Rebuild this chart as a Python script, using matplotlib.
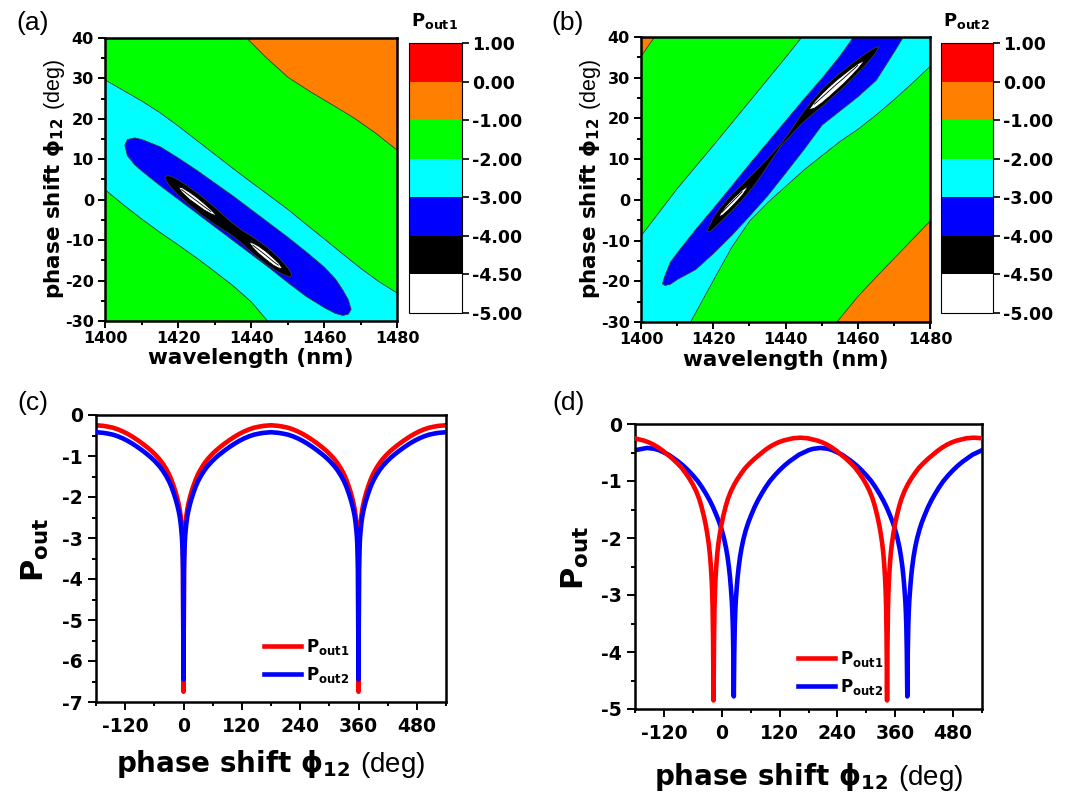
import matplotlib
matplotlib.use("Agg")
import matplotlib.pyplot as plt
from matplotlib.colors import ListedColormap, BoundaryNorm
from matplotlib.cm import ScalarMappable
from matplotlib.ticker import MultipleLocator, FormatStrFormatter

plt.rcParams['font.family'] = ['DejaVu Sans']
plt.rcParams['font.weight'] = 'bold'
plt.rcParams['mathtext.fontset'] = 'custom'
plt.rcParams['mathtext.rm'] = 'Liberation Sans:normal'
plt.rcParams['mathtext.bf'] = 'DejaVu Sans:bold'
plt.rcParams['mathtext.it'] = 'DejaVu Sans:bold'
plt.rcParams['axes.unicode_minus'] = False

# ---------------- colour scale of the contour maps ----------------
LEVELS = [-5.0, -4.5, -4.0, -3.0, -2.0, -1.0, 0.0, 1.0]
LEVEL_COLORS = ['#ffffff', '#000000', '#0000ff', '#00ffff', '#00ff00', '#ff8000', '#ff0000']

# ---------------- (a) P_out1 contour boundaries (wavelength nm, phase deg) ----------------
A_ORANGE_X = [1438.8, 1444, 1450, 1456, 1462.5, 1468, 1474, 1480]
A_ORANGE_LO = [40, 35.3, 30.4, 26.9, 23.4, 20.4, 16.6, 12.3]

A_CYAN_X = [1400, 1405, 1410, 1415, 1420, 1425, 1430, 1435, 1440, 1444.5, 1450, 1455, 1460, 1465, 1470, 1475, 1480]
A_CYAN_HI = [29.7, 27.1, 24.5, 21.6, 18.3, 14.8, 11.3, 7.8, 4.4, 1.4, -2.3, -6.0, -9.6, -13.3, -16.9, -20.2, -23.0]
A_CYAN_LO = [2.5, -1.2, -4.7, -8.0, -11.1, -14.3, -17.7, -21.2, -25.2, -30, -30, -30, -30, -30, -30, -30, -30]

A_BLUE_X = [1405.3, 1406, 1408, 1410, 1415, 1420, 1425, 1430, 1435, 1440, 1445, 1450, 1455, 1460, 1463, 1465, 1466.5, 1467.3]
A_BLUE_HI = [13.6, 15.0, 15.4, 15.0, 13.2, 10.4, 7.4, 4.2, 1.0, -2.4, -5.8, -9.2, -12.8, -16.6, -19.5, -22.2, -24.6, -27.0]
A_BLUE_LO = [13.6, 11.0, 8.8, 7.2, 3.6, 0.2, -3.2, -6.6, -10.0, -13.4, -16.8, -20.4, -23.8, -26.6, -28.0, -28.5, -28.2, -27.0]

A_BLACK_X = [1416.2, 1417, 1418, 1420, 1423, 1426, 1430, 1434, 1437, 1440, 1444, 1447, 1449, 1450.5, 1451]
A_BLACK_HI = [5.7, 6.1, 5.9, 5.0, 3.2, 1.2, -1.8, -5.1, -7.2, -8.9, -11.4, -13.8, -15.7, -17.4, -18.5]
A_BLACK_LO = [5.7, 4.3, 3.1, 1.2, -1.2, -3.4, -6.0, -8.3, -10.4, -12.9, -15.8, -17.6, -18.5, -19.0, -18.5]

A_WHITE1_X = [1420.0, 1421, 1423, 1425, 1427, 1429, 1430.5]
A_WHITE1_HI = [3.2, 3.1, 2.0, 0.7, -0.8, -2.4, -3.9]
A_WHITE1_LO = [3.2, 1.9, 0.2, -1.1, -2.4, -3.4, -3.9]
A_WHITE2_X = [1439.3, 1440.5, 1442, 1444, 1446, 1447.5, 1448.5]
A_WHITE2_HI = [-10.4, -10.65, -11.4, -12.7, -14.3, -15.6, -16.9]
A_WHITE2_LO = [-10.4, -11.85, -13.2, -14.7, -16.1, -16.8, -16.9]

# ---------------- (b) P_out2 contour boundaries ----------------
B_ORANGE1_X = [1400, 1403.5]
B_ORANGE1_LO = [35.5, 40]
B_ORANGE2_X = [1454, 1460, 1465, 1470, 1475, 1480]
B_ORANGE2_HI = [-30, -23.5, -18.8, -14.2, -9.6, -5.0]

B_CYAN_X = [1400, 1405, 1410, 1413.5, 1415, 1420, 1425, 1430, 1435, 1440, 1444.3, 1445, 1450, 1455, 1460, 1465, 1470, 1475, 1480]
B_CYAN_HI = [-8.6, -2.8, 3.0, 6.7, 8.3, 13.6, 19.0, 24.4, 29.8, 35.2, 40, 40, 40, 40, 40, 40, 40, 40, 40]
B_CYAN_LO = [-30, -30, -30, -30, -27.6, -19.5, -11.5, -5.0, -0.5, 3.5, 6.9, 7.5, 11.0, 14.5, 17.5, 21.0, 24.8, 28.8, 33.0]

B_BLUE_X = [1405.8, 1406.5, 1408, 1410, 1415, 1420, 1425, 1430, 1435, 1440, 1445, 1450, 1455, 1458.6, 1460, 1465, 1470, 1472.4]
B_BLUE_HI = [-20.5, -18.5, -15.2, -12.8, -7.2, -1.9, 3.5, 9.0, 14.3, 19.6, 24.9, 30.0, 35.5, 40, 40, 40, 40, 40]
B_BLUE_LO = [-20.5, -20.9, -20.6, -19.4, -17.0, -13.0, -8.6, -3.8, 1.2, 6.8, 12.5, 18.5, 22.0, 24.5, 25.5, 29.5, 36.5, 40]

B_BLACK_X = [1418.0, 1419, 1420, 1422, 1425, 1428, 1431, 1434, 1436.5, 1438.5, 1441, 1444, 1447, 1450, 1453, 1456, 1459, 1462, 1464.5, 1465.8]
B_BLACK_HI = [-7.7, -5.9, -4.1, -1.6, 1.4, 4.0, 6.6, 9.4, 11.8, 13.75, 16.8, 20.7, 24.3, 27.3, 29.8, 32.0, 34.1, 36.0, 37.4, 37.8]
B_BLACK_LO = [-7.7, -7.7, -6.9, -5.2, -2.6, 0.2, 3.4, 7.2, 10.6, 13.25, 15.6, 18.5, 20.9, 23.1, 25.4, 27.8, 30.5, 33.2, 35.8, 37.8]

B_WHITE1_X = [1421.3, 1422.5, 1424, 1426, 1428, 1429.7]
B_WHITE1_HI = [-4.1, -2.4, -0.8, 1.0, 2.6, 3.6]
B_WHITE1_LO = [-4.1, -3.6, -2.4, -0.6, 1.4, 3.6]
B_WHITE2_X = [1446.3, 1448, 1450, 1452, 1454, 1456, 1458, 1460, 1461.8]
B_WHITE2_HI = [22.2, 24.3, 26.2, 27.9, 29.5, 30.9, 32.3, 33.6, 34.4]
B_WHITE2_LO = [22.2, 22.7, 24.0, 25.5, 27.1, 28.7, 30.5, 32.4, 34.4]

# ---------------- (c) P_out vs phase shift (both dips at 0 and 360 deg) ----------------
PHI_C = [-180, -165, -155, -145, -135, -125, -115, -105, -95, -85, -75, -66, -58, -50, -43, -36, -30, -25, -20, -16, -13, -10, -8, -6, -4, -3, -2, -1,
         0,
         1, 2, 3, 4, 6, 8, 10, 13, 16, 20, 25, 30, 36, 43, 50, 58, 66, 75, 85, 95, 105, 115, 125, 135, 145, 155, 165, 180,
         195, 205, 215, 225, 235, 245, 255, 265, 275, 285, 294, 302, 310, 317, 324, 330, 335, 340, 344, 347, 350, 352, 354, 356, 357, 358, 359,
         360,
         361, 362, 363, 364, 366, 368, 370, 373, 376, 380, 385, 390, 396, 403, 410, 418, 426, 435, 445, 455, 465, 475, 485, 495, 505, 515, 525, 540]
POUT1_C = [-0.25, -0.265, -0.285, -0.31, -0.35, -0.40, -0.46, -0.53, -0.608, -0.693, -0.785, -0.875, -0.967, -1.071, -1.18, -1.31, -1.442, -1.577, -1.742, -1.89, -2.019, -2.169, -2.29, -2.45, -2.67, -2.83, -3.05, -3.50,
           -6.75,
           -3.50, -3.05, -2.83, -2.67, -2.45, -2.29, -2.169, -2.019, -1.89, -1.742, -1.577, -1.442, -1.31, -1.18, -1.071, -0.967, -0.875, -0.785, -0.693, -0.608, -0.53, -0.46, -0.40, -0.35, -0.31, -0.285, -0.265, -0.25,
           -0.265, -0.285, -0.31, -0.35, -0.40, -0.46, -0.53, -0.608, -0.693, -0.785, -0.875, -0.967, -1.071, -1.18, -1.31, -1.442, -1.577, -1.742, -1.89, -2.019, -2.169, -2.29, -2.45, -2.67, -2.83, -3.05, -3.50,
           -6.75,
           -3.50, -3.05, -2.83, -2.67, -2.45, -2.29, -2.169, -2.019, -1.89, -1.742, -1.577, -1.442, -1.31, -1.18, -1.071, -0.967, -0.875, -0.785, -0.693, -0.608, -0.53, -0.46, -0.40, -0.35, -0.31, -0.285, -0.265, -0.25]
POUT2_C = [-0.42, -0.435, -0.455, -0.48, -0.52, -0.57, -0.63, -0.70, -0.778, -0.863, -0.955, -1.045, -1.137, -1.241, -1.35, -1.48, -1.612, -1.747, -1.912, -2.06, -2.19, -2.34, -2.46, -2.63, -2.86, -3.03, -3.28, -3.78,
           -6.45,
           -3.78, -3.28, -3.03, -2.86, -2.63, -2.46, -2.34, -2.19, -2.06, -1.912, -1.747, -1.612, -1.48, -1.35, -1.241, -1.137, -1.045, -0.955, -0.863, -0.778, -0.70, -0.63, -0.57, -0.52, -0.48, -0.455, -0.435, -0.42,
           -0.435, -0.455, -0.48, -0.52, -0.57, -0.63, -0.70, -0.778, -0.863, -0.955, -1.045, -1.137, -1.241, -1.35, -1.48, -1.612, -1.747, -1.912, -2.06, -2.19, -2.34, -2.46, -2.63, -2.86, -3.03, -3.28, -3.78,
           -6.45,
           -3.78, -3.28, -3.03, -2.86, -2.63, -2.46, -2.34, -2.19, -2.06, -1.912, -1.747, -1.612, -1.48, -1.35, -1.241, -1.137, -1.045, -0.955, -0.863, -0.778, -0.70, -0.63, -0.57, -0.52, -0.48, -0.455, -0.435, -0.42]

# ---------------- (d) P_out vs phase shift (dips at -17/343 and 25/385 deg) ----------------
PHI1_D = [-180, -172, -162, -152, -142, -132, -122, -112, -102, -92, -83, -75, -67, -60, -53, -47, -42, -37, -33, -30, -27, -25, -23, -21, -20, -19, -18,
          -17,
          -16, -15, -14, -13, -11, -9, -7, -4, -1, 3, 8, 13, 19, 26, 33, 41, 49, 58, 68, 78, 88, 98, 108, 118, 128, 138, 148, 163,
          178, 188, 198, 208, 218, 228, 238, 248, 258, 268, 277, 285, 293, 300, 307, 313, 318, 323, 327, 330, 333, 335, 337, 339, 340, 341, 342,
          343,
          344, 345, 346, 347, 349, 351, 353, 356, 359, 363, 368, 373, 379, 386, 393, 401, 409, 418, 428, 438, 448, 458, 468, 478, 488, 498, 508, 523, 540]
POUT1_D = [-0.25, -0.27, -0.29, -0.32, -0.36, -0.41, -0.47, -0.54, -0.61, -0.69, -0.77, -0.86, -0.96, -1.06, -1.18, -1.31, -1.45, -1.62, -1.78, -1.93, -2.10, -2.25, -2.45, -2.72, -2.92, -3.20, -3.75,
           -4.85,
           -3.75, -3.20, -2.92, -2.72, -2.45, -2.25, -2.10, -1.93, -1.78, -1.62, -1.45, -1.31, -1.18, -1.06, -0.96, -0.86, -0.77, -0.69, -0.61, -0.54, -0.47, -0.41, -0.36, -0.32, -0.29, -0.27, -0.25, -0.24,
           -0.25, -0.27, -0.29, -0.32, -0.36, -0.41, -0.47, -0.54, -0.61, -0.69, -0.77, -0.86, -0.96, -1.06, -1.18, -1.31, -1.45, -1.62, -1.78, -1.93, -2.10, -2.25, -2.45, -2.72, -2.92, -3.20, -3.75,
           -4.85,
           -3.75, -3.20, -2.92, -2.72, -2.45, -2.25, -2.10, -1.93, -1.78, -1.62, -1.45, -1.31, -1.18, -1.06, -0.96, -0.86, -0.77, -0.69, -0.61, -0.54, -0.47, -0.41, -0.36, -0.32, -0.29, -0.27, -0.25, -0.24, -0.25]
PHI2_D = [-180, -155, -140, -130, -120, -110, -100, -90, -80, -70, -60, -50, -41, -33, -25, -18, -11, -5, 0, 5, 9, 12, 15, 17, 19, 21, 22, 23, 24,
          25,
          26, 27, 28, 29, 31, 33, 35, 38, 41, 45, 50, 55, 61, 68, 75, 83, 91, 100, 110, 120, 130, 140, 150, 160, 170, 180, 190, 205,
          220, 230, 240, 250, 260, 270, 280, 290, 300, 310, 319, 327, 335, 342, 349, 355, 360, 365, 369, 372, 375, 377, 379, 381, 382, 383, 384,
          385,
          386, 387, 388, 389, 391, 393, 395, 398, 401, 405, 410, 415, 421, 428, 435, 443, 451, 460, 470, 480, 490, 500, 510, 520, 530, 540]
POUT2_D = [-0.46, -0.42, -0.435, -0.46, -0.50, -0.54, -0.60, -0.66, -0.73, -0.81, -0.90, -1.00, -1.11, -1.22, -1.34, -1.46, -1.60, -1.73, -1.86, -2.02, -2.18, -2.33, -2.52, -2.68, -2.88, -3.12, -3.30, -3.55, -4.00,
           -4.78,
           -4.00, -3.55, -3.30, -3.12, -2.88, -2.68, -2.52, -2.33, -2.18, -2.02, -1.86, -1.73, -1.60, -1.46, -1.34, -1.22, -1.11, -1.00, -0.90, -0.81, -0.73, -0.66, -0.60, -0.54, -0.50, -0.46, -0.435, -0.42,
           -0.435, -0.46, -0.50, -0.54, -0.60, -0.66, -0.73, -0.81, -0.90, -1.00, -1.11, -1.22, -1.34, -1.46, -1.60, -1.73, -1.86, -2.02, -2.18, -2.33, -2.52, -2.68, -2.88, -3.12, -3.30, -3.55, -4.00,
           -4.78,
           -4.00, -3.55, -3.30, -3.12, -2.88, -2.68, -2.52, -2.33, -2.18, -2.02, -1.86, -1.73, -1.60, -1.46, -1.34, -1.22, -1.11, -1.00, -0.90, -0.81, -0.73, -0.66, -0.60, -0.54, -0.50, -0.46]

# =====================================================================
W, H = 1067, 798
fig = plt.figure(figsize=(W / 100, H / 100), dpi=100)


def px_axes(left, top, right, bottom):
    return fig.add_axes([left / W, 1 - bottom / H, (right - left) / W, (bottom - top) / H])


def style_axes(ax, labelsize, padx, pady, major_len):
    for s in ax.spines.values():
        s.set_linewidth(1.8)
    ax.tick_params(which='both', direction='out', top=False, right=False, width=1.4,
                   labelsize=labelsize)
    ax.tick_params(which='major', length=major_len)
    ax.tick_params(which='minor', length=3)
    ax.tick_params(axis='x', which='major', pad=padx)
    ax.tick_params(axis='y', which='major', pad=pady)


cmap = ListedColormap(LEVEL_COLORS)
norm = BoundaryNorm(LEVELS, cmap.N)
EDGE = '#3a3a3a'
PHI_LABEL = 'phase shift \u03d5$_{\\mathbf{12}}$ $\\mathrm{(deg)}$'


def contour_panel(ax, layers, whites):
    ax.set_facecolor(LEVEL_COLORS[4])
    for x, lo, hi, col in layers:
        ax.fill_between(x, lo, hi, facecolor=col, edgecolor=EDGE, linewidth=0.6)
    for x, lo, hi in whites:
        ax.fill_between(x, lo, hi, facecolor='white', edgecolor='black', linewidth=0.6)
        mid = [(a + b) / 2 for a, b in zip(lo, hi)]
        ax.plot(x[1:-1], mid[1:-1], color='black', lw=0.6)
    ax.set_xlim(1400, 1480)
    ax.set_ylim(-30, 40)
    ax.xaxis.set_major_locator(MultipleLocator(20))
    ax.xaxis.set_minor_locator(MultipleLocator(10))
    ax.yaxis.set_major_locator(MultipleLocator(10))
    ax.yaxis.set_minor_locator(MultipleLocator(5))
    style_axes(ax, 11.5, 2.0, 3.0, 5)
    ax.set_xlabel('wavelength (nm)', fontsize=15.5, fontweight='bold')
    ax.set_ylabel(PHI_LABEL, fontsize=15.5, fontweight='bold')
    ax.xaxis.set_label_coords(0.5, -0.097)
    ax.yaxis.set_label_coords(-0.131, 0.5)


def colorbar_panel(cax, title, title_x):
    cb = fig.colorbar(ScalarMappable(norm=norm, cmap=cmap), cax=cax, ticks=LEVELS,
                      spacing='uniform')
    cb.outline.set_linewidth(0.8)
    cax.yaxis.set_major_formatter(FormatStrFormatter('%.2f'))
    cax.tick_params(direction='out', length=5, width=1.2, labelsize=12.5, pad=2.5)
    cax.minorticks_off()
    fig.text(title_x / W, 1 - 21 / H, title, ha='center', va='center', fontsize=13)


# ---- (a)
ax_a = px_axes(105, 38, 397, 321)
contour_panel(ax_a,
              [(A_ORANGE_X, A_ORANGE_LO, 40, LEVEL_COLORS[5]),
               (A_CYAN_X, A_CYAN_LO, A_CYAN_HI, LEVEL_COLORS[3]),
               (A_BLUE_X, A_BLUE_LO, A_BLUE_HI, LEVEL_COLORS[2]),
               (A_BLACK_X, A_BLACK_LO, A_BLACK_HI, LEVEL_COLORS[1])],
              [(A_WHITE1_X, A_WHITE1_LO, A_WHITE1_HI),
               (A_WHITE2_X, A_WHITE2_LO, A_WHITE2_HI)])
colorbar_panel(px_axes(409, 43, 462, 313), '$\\mathbf{P}_{\\mathbf{out1}}$', 434)

# ---- (b)
ax_b = px_axes(641, 37, 930, 322)
contour_panel(ax_b,
              [(B_ORANGE1_X, B_ORANGE1_LO, 40, LEVEL_COLORS[5]),
               (B_ORANGE2_X, -30, B_ORANGE2_HI, LEVEL_COLORS[5]),
               (B_CYAN_X, B_CYAN_LO, B_CYAN_HI, LEVEL_COLORS[3]),
               (B_BLUE_X, B_BLUE_LO, B_BLUE_HI, LEVEL_COLORS[2]),
               (B_BLACK_X, B_BLACK_LO, B_BLACK_HI, LEVEL_COLORS[1])],
              [(B_WHITE1_X, B_WHITE1_LO, B_WHITE1_HI),
               (B_WHITE2_X, B_WHITE2_LO, B_WHITE2_HI)])
colorbar_panel(px_axes(941, 43, 993, 313), '$\\mathbf{P}_{\\mathbf{out2}}$', 966)

P1 = '$\\mathbf{P}_{\\mathbf{out1}}$'
P2 = '$\\mathbf{P}_{\\mathbf{out2}}$'


def line_panel(ax, series, ymin, legend_anchor):
    lines = {}
    for x, y, col, lab, z in series:
        lines[lab], = ax.plot(x, y, color=col, lw=3.3, label=lab, zorder=z)
    ax.set_xlim(-180, 540)
    ax.set_ylim(ymin, 0)
    ax.xaxis.set_major_locator(MultipleLocator(120))
    ax.xaxis.set_minor_locator(MultipleLocator(60))
    ax.yaxis.set_major_locator(MultipleLocator(1))
    ax.yaxis.set_minor_locator(MultipleLocator(0.5))
    style_axes(ax, 13.5, 5.0, 3.5, 6)
    ax.set_xlabel(PHI_LABEL, fontsize=20, fontweight='bold')
    ax.set_ylabel('$\\mathbf{P}_{\\mathbf{out}}$', fontsize=22)
    ax.legend([lines[P1], lines[P2]], [P1, P2],
              loc='upper left', bbox_to_anchor=legend_anchor, frameon=False,
              fontsize=12, handlelength=2.2, handletextpad=0.3, labelspacing=0.5,
              borderpad=0, borderaxespad=0)


# ---- (c)
ax_c = px_axes(96, 415, 446, 702)
line_panel(ax_c, [(PHI_C, POUT1_C, '#ff0000', P1, 2), (PHI_C, POUT2_C, '#0000ff', P2, 3)],
           -7, (0.48, 0.228))
ax_c.xaxis.set_label_coords(0.5, -0.16)
ax_c.yaxis.set_label_coords(-0.128, 0.53)

# ---- (d)
ax_d = px_axes(635, 424, 982, 709)
line_panel(ax_d, [(PHI1_D, POUT1_D, '#ff0000', P1, 3), (PHI2_D, POUT2_D, '#0000ff', P2, 2)],
           -5, (0.47, 0.212))
ax_d.xaxis.set_label_coords(0.5, -0.183)
ax_d.yaxis.set_label_coords(-0.128, 0.53)

# ---- panel letters
for lab, x, y in [('(a)', 16, 11), ('(b)', 551, 11), ('(c)', 17, 391), ('(d)', 552, 391)]:
    fig.text(x / W, 1 - y / H, lab, ha='left', va='top', fontsize=19,
             fontweight='normal', fontfamily='Liberation Sans')

fig.savefig('out.png', dpi=100)
